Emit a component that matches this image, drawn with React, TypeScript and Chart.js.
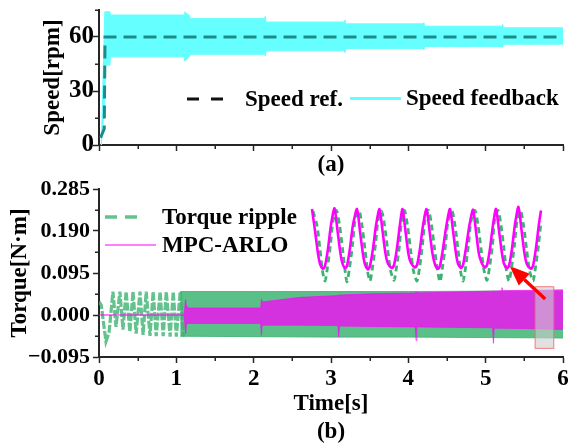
import React, { useEffect, useRef } from 'react';
import { Chart, registerables } from 'chart.js';

Chart.register(...registerables);

const FONT_FAMILY = "'Liberation Serif', 'Times New Roman', Times, serif";
const AXIS_COLOR = '#262626';
const CYAN = '#66ffff';
const REF_TEAL = '#1e8b8b';
const GREEN = '#3cb371';
const GREEN_FILL = 'rgba(60,179,113,0.84)';
const GREEN_LINE = 'rgba(60,179,113,0.8)';
const MAGENTA = '#ff00ff';
const MAGENTA_FILL = 'rgba(255,0,255,0.74)';

// ---------- shared time axis ----------
const timeTicks = [0, 0.5, 1, 1.5, 2, 2.5, 3, 3.5, 4, 4.5, 5, 5.5, 6];
const timeTickLabels = ['0', '', '1', '', '2', '', '3', '', '4', '', '5', '', '6'];

// ---------- (a) speed ----------
const speedTicks = [0, 15, 30, 45, 60, 75];
const speedTickLabels = ['0', '', '30', '', '60', ''];
const speedLegendLabels = ['Speed ref.', 'Speed feedback'];

const speedRefTime = [0.02, 0.068, 0.078, 6];
const speedRefValue = [4, 9, 60, 60];

// envelope of the fast speed-feedback oscillation
const feedbackTime = [0.03, 0.075, 0.085, 0.14, 0.15, 1.1, 1.11, 1.12, 1.17, 1.18, 2.14, 2.15, 2.16, 3.17, 3.18, 3.19, 4.19, 4.2, 4.21, 5.21, 5.22, 5.23, 6.0];
const feedbackUpper = [0, 74, 74, 74, 72.2, 72.2, 74, 73.5, 72, 70.2, 70.2, 71.5, 68.3, 68.3, 69.5, 67.3, 67.3, 68, 66, 66, 67, 65.1, 65.1];
const feedbackLower = [0, 25, 44.4, 44.4, 49, 49, 46.7, 47, 49, 50.4, 50.4, 49.5, 52.3, 52.3, 51.5, 53.6, 53.6, 53, 54.7, 54.7, 54, 56, 56];

// ---------- (b) torque ----------
const torqueTicks = [-0.095, -0.0475, 0, 0.0475, 0.095, 0.1425, 0.19, 0.2375, 0.285];
const torqueTickLabels = ['\u22120.095', '', '0.000', '', '0.095', '', '0.190', '', '0.285'];
const torqueLegendLabels = ['Torque ripple', 'MPC-ARLO'];

// torque ripple, start-up part (visible zig-zag)
const rippleEarlyTime = [0, 0.03, 0.06, 0.09, 0.13, 0.18, 0.22, 0.27, 0.31, 0.35, 0.4, 0.44, 0.48, 0.53, 0.57, 0.61, 0.66, 0.7, 0.74, 0.79, 0.83, 0.87, 0.92, 0.96, 1.0, 1.05, 1.09];
const rippleEarlyValue = [0.03, 0.022, -0.02, -0.06, -0.04, 0.053, -0.027, 0.053, -0.033, 0.053, -0.038, 0.053, -0.042, 0.053, -0.045, 0.053, -0.047, 0.053, -0.048, 0.053, -0.048, 0.053, -0.049, 0.053, -0.049, 0.053, -0.049];

// torque ripple, dense band envelope
const rippleBandTime = [1.05, 2, 3, 4, 5, 6];
const rippleBandUpper = [0.053, 0.053, 0.053, 0.053, 0.054, 0.054];
const rippleBandLower = [-0.048, -0.049, -0.05, -0.05, -0.051, -0.052];

// MPC-ARLO: zero before start, then dense band envelope (with spikes)
const mpcZeroTime = [0, 1.1];
const mpcZeroValue = [0, 0];
const mpcBandTime = [1.1, 1.12, 1.13, 1.15, 2.09, 2.1, 2.11, 2.13, 2.6, 3.09, 3.1, 3.11, 3.5, 4.09, 4.1, 4.11, 4.6, 5.09, 5.1, 5.11, 5.2, 5.21, 5.22, 5.6, 6.0];
const mpcBandUpper = [0.0, 0.035, 0.022, 0.016, 0.016, 0.036, 0.03, 0.03, 0.04, 0.044, 0.046, 0.045, 0.048, 0.05, 0.052, 0.05, 0.052, 0.054, 0.055, 0.054, 0.055, 0.062, 0.055, 0.056, 0.057];
const mpcBandLower = [0.0, -0.042, -0.022, -0.019, -0.019, -0.046, -0.023, -0.023, -0.023, -0.024, -0.05, -0.025, -0.026, -0.027, -0.058, -0.027, -0.028, -0.029, -0.064, -0.03, -0.03, -0.03, -0.03, -0.031, -0.033];

// zoom box (time span, torque span) and arrow (tail -> tip)
const zoomBoxTime = [5.64, 5.88];
const zoomBoxTorque = [-0.0755, 0.064];
const arrowTime = [5.77, 5.31];
const arrowTorque = [0.036, 0.111];

// ---------- inset (zoomed waveform, time in ms) ----------
const insetMpcTime = [
  0, 3, 6, 8, 11, 13, 16, 19,
  22.5, 25.5, 28.5, 30.5, 33, 35, 38, 41,
  45, 48, 51, 53, 56, 58, 61, 64,
  67.5, 70.5, 73.5, 76, 80, 82, 85, 88,
  90.5, 93.5, 96.5, 99, 103, 105, 108, 111,
  114.5, 117.5, 120.5, 123, 126, 128, 131, 134.5,
  138, 141, 144, 146, 149, 151, 154, 157.5,
  161, 164, 167, 170, 173, 175, 178, 181,
  184, 187, 190, 192, 195, 197, 200, 203,
  206.5, 209.5, 212.5, 215, 219, 221, 224, 227,
  229,
];
const insetMpcValue = [
  0.05, 0.02, -0.012, -0.026, -0.033, -0.029, -0.005, 0.028,
  0.051, 0.02, -0.012, -0.026, -0.032, -0.029, -0.004, 0.028,
  0.05, 0.019, -0.013, -0.027, -0.034, -0.029, -0.005, 0.027,
  0.05, 0.02, -0.012, -0.026, -0.032, -0.028, -0.004, 0.029,
  0.05, 0.019, -0.013, -0.025, -0.031, -0.028, -0.005, 0.027,
  0.05, 0.02, -0.012, -0.027, -0.033, -0.029, -0.005, 0.028,
  0.05, 0.02, -0.012, -0.026, -0.032, -0.028, -0.004, 0.028,
  0.049, 0.019, -0.013, -0.026, -0.031, -0.028, -0.005, 0.028,
  0.05, 0.02, -0.012, -0.026, -0.032, -0.029, -0.005, 0.029,
  0.053, 0.021, -0.012, -0.027, -0.033, -0.029, -0.004, 0.03,
  0.048,
];
const insetRippleTime = [
  1, 5, 8, 10.5, 13, 15.5, 18.5, 21,
  24.5, 27.5, 30.5, 33, 35, 37.5, 40.5, 43,
  47, 50, 53, 55.5, 58, 60.5, 63.5, 66,
  69.5, 72.5, 75.5, 78.5, 82, 84.5, 87.5, 89.5,
  92.5, 95.5, 98.5, 101.5, 105, 107.5, 110.5, 113,
  116.5, 119.5, 122.5, 125.5, 128, 130.5, 133.5, 136,
  140, 143, 146, 148.5, 151, 153.5, 156.5, 159,
  163, 166, 169, 172, 175, 177.5, 180.5, 182.5,
  186, 189, 192, 194.5, 197, 199.5, 202.5, 205,
  208.5, 211.5, 214.5, 217.5, 221, 223.5, 226.5, 229,
];
const insetRippleValue = [
  0.047, 0.027, -0.006, -0.036, -0.05, -0.031, 0.001, 0.033,
  0.048, 0.028, -0.005, -0.035, -0.051, -0.032, 0.0, 0.034,
  0.048, 0.027, -0.006, -0.036, -0.05, -0.031, 0.001, 0.033,
  0.047, 0.028, -0.005, -0.035, -0.049, -0.031, 0.0, 0.033,
  0.048, 0.027, -0.006, -0.036, -0.05, -0.032, 0.001, 0.034,
  0.048, 0.028, -0.005, -0.035, -0.051, -0.031, 0.0, 0.033,
  0.047, 0.027, -0.006, -0.036, -0.05, -0.032, 0.001, 0.033,
  0.048, 0.028, -0.005, -0.035, -0.049, -0.031, 0.0, 0.034,
  0.048, 0.027, -0.006, -0.036, -0.05, -0.032, 0.001, 0.033,
  0.048, 0.028, -0.005, -0.035, -0.05, -0.031, 0.0, 0.033,
];

// ---------- helpers ----------
const pts = (xs: number[], ys: number[]) => xs.map((x, i) => ({ x, y: ys[i] }));
const font = (size = 23) => ({ family: FONT_FAMILY, size, weight: 'bold' as const, lineHeight: 1.22 });

const minorTicksPlugin = {
  id: 'minorTicks',
  afterDraw(chart: any, _args: any, opts: any) {
    const ctx = chart.ctx;
    const area = chart.chartArea;
    ctx.save();
    ctx.strokeStyle = AXIS_COLOR;
    ctx.lineWidth = 1.5;
    const xs = chart.scales.x;
    const ys = chart.scales.y;
    (opts.x || []).forEach((v: number) => {
      const p = Math.round(xs.getPixelForValue(v)) + 0.25;
      ctx.beginPath();
      ctx.moveTo(p, area.bottom);
      ctx.lineTo(p, area.bottom + 4);
      ctx.stroke();
    });
    (opts.y || []).forEach((v: number) => {
      const p = Math.round(ys.getPixelForValue(v)) + 0.25;
      ctx.beginPath();
      ctx.moveTo(area.left - 4, p);
      ctx.lineTo(area.left, p);
      ctx.stroke();
    });
    ctx.restore();
  },
};

const inlineLegendPlugin = {
  id: 'inlineLegend',
  afterDraw(chart: any, _args: any, opts: any) {
    const ctx = chart.ctx;
    (opts.items || []).forEach((it: any) => {
      ctx.save();
      ctx.strokeStyle = it.color;
      ctx.lineWidth = it.width;
      ctx.setLineDash(it.dash || []);
      ctx.beginPath();
      ctx.moveTo(it.x0, it.y);
      ctx.lineTo(it.x1, it.y);
      ctx.stroke();
      ctx.setLineDash([]);
      ctx.fillStyle = '#000';
      ctx.font = `bold 23px ${FONT_FAMILY}`;
      ctx.textBaseline = 'middle';
      ctx.textAlign = 'left';
      ctx.fillText(it.text, it.tx, it.y + 1);
      ctx.restore();
    });
  },
};

const zoomMarkPlugin = {
  id: 'zoomMark',
  afterDatasetsDraw(chart: any) {
    const ctx = chart.ctx;
    const xs = chart.scales.x;
    const ys = chart.scales.y;
    const x0 = xs.getPixelForValue(zoomBoxTime[0]);
    const x1 = xs.getPixelForValue(zoomBoxTime[1]);
    const y0 = ys.getPixelForValue(zoomBoxTorque[1]);
    const y1 = ys.getPixelForValue(zoomBoxTorque[0]);
    ctx.save();
    ctx.fillStyle = 'rgba(205,205,205,0.6)';
    ctx.fillRect(x0, y0, x1 - x0, y1 - y0);
    ctx.strokeStyle = 'rgba(240,110,110,0.75)';
    ctx.lineWidth = 1.2;
    ctx.strokeRect(x0, y0, x1 - x0, y1 - y0);
    // arrow
    const tx = xs.getPixelForValue(arrowTime[0]);
    const ty = ys.getPixelForValue(arrowTorque[0]);
    const hx = xs.getPixelForValue(arrowTime[1]);
    const hy = ys.getPixelForValue(arrowTorque[1]);
    const ang = Math.atan2(hy - ty, hx - tx);
    const headLen = 20;
    const headHalf = 8;
    const bx = hx - headLen * Math.cos(ang);
    const by = hy - headLen * Math.sin(ang);
    ctx.strokeStyle = '#ff0000';
    ctx.fillStyle = '#ff0000';
    ctx.lineWidth = 3.4;
    ctx.beginPath();
    ctx.moveTo(tx, ty);
    ctx.lineTo(bx, by);
    ctx.stroke();
    ctx.beginPath();
    ctx.moveTo(hx, hy);
    ctx.lineTo(bx + headHalf * Math.sin(ang), by - headHalf * Math.cos(ang));
    ctx.lineTo(bx - headHalf * Math.sin(ang), by + headHalf * Math.cos(ang));
    ctx.closePath();
    ctx.fill();
    ctx.restore();
  },
};

function timeAxis(showLabels: boolean, title: string | string[], height: number, titlePadBottom: number) {
  return {
    type: 'linear' as const,
    min: 0,
    max: 6,
    afterBuildTicks: (s: any) => {
      s.ticks = timeTicks.map((v) => ({ value: v }));
    },
    afterFit: (s: any) => {
      s.height = height;
      s.paddingLeft = 0;
      s.paddingRight = 0;
    },
    ticks: {
      autoSkip: false,
      maxRotation: 0,
      padding: 2,
      color: '#000',
      font: font(23),
      callback: (_v: any, i: number) => (showLabels ? timeTickLabels[i] : ''),
    },
    grid: {
      display: true,
      drawOnChartArea: false,
      drawTicks: true,
      tickLength: 6,
      tickWidth: 1.5,
      tickColor: (c: any) => (timeTickLabels[c.index] ? AXIS_COLOR : 'rgba(0,0,0,0)'),
    },
    border: { display: true, color: AXIS_COLOR, width: 2 },
    title: { display: true, text: title, color: '#000', font: font(23), padding: { top: 0, bottom: titlePadBottom } },
  };
}

function valueAxis(min: number, max: number, tickVals: number[], tickLabels: string[], title: string, titlePadTop: number, labelPad: number, labelSize: number) {
  return {
    type: 'linear' as const,
    min,
    max,
    afterBuildTicks: (s: any) => {
      s.ticks = tickVals.map((v) => ({ value: v }));
    },
    afterFit: (s: any) => {
      s.width = 99;
      s.paddingTop = 0;
      s.paddingBottom = 0;
    },
    ticks: {
      autoSkip: false,
      padding: labelPad,
      color: '#000',
      font: font(labelSize),
      callback: (_v: any, i: number) => tickLabels[i],
    },
    grid: {
      display: true,
      drawOnChartArea: false,
      drawTicks: true,
      tickLength: 6,
      tickWidth: 1.5,
      tickColor: (c: any) => (tickLabels[c.index] ? AXIS_COLOR : 'rgba(0,0,0,0)'),
    },
    border: { display: true, color: AXIS_COLOR, width: 2 },
    title: { display: true, text: title, color: '#000', font: font(23), padding: { top: titlePadTop, bottom: 0 } },
  };
}

function speedConfig(): any {
  return {
    type: 'line',
    data: {
      datasets: [
        {
          label: speedLegendLabels[0],
          data: pts(speedRefTime, speedRefValue),
          borderColor: REF_TEAL,
          borderWidth: 3,
          borderDash: [13, 7],
          pointRadius: 0,
          fill: false,
          tension: 0,
        },
        {
          label: speedLegendLabels[1],
          data: pts(feedbackTime, feedbackUpper),
          borderColor: CYAN,
          backgroundColor: CYAN,
          borderWidth: 1,
          pointRadius: 0,
          fill: '+1',
          tension: 0,
        },
        {
          label: speedLegendLabels[1] + ' (min)',
          data: pts(feedbackTime, feedbackLower),
          borderColor: CYAN,
          borderWidth: 1,
          pointRadius: 0,
          fill: false,
          tension: 0,
        },
      ],
    },
    options: {
      responsive: false,
      animation: false,
      events: [],
      layout: { padding: { top: 10, right: 8, left: 0, bottom: 0 } },
      plugins: {
        legend: { display: false },
        tooltip: { enabled: false },
        minorTicks: {
          x: timeTicks.filter((_, i) => !timeTickLabels[i]),
          y: speedTicks.filter((_, i) => !speedTickLabels[i]),
        },
        inlineLegend: {
          items: [
            { text: speedLegendLabels[0], color: '#111', width: 3, dash: [12, 12], x0: 187, x1: 224, y: 99, tx: 245 },
            { text: speedLegendLabels[1], color: CYAN, width: 3, dash: [], x0: 350, x1: 401, y: 98.5, tx: 406 },
          ],
        },
      },
      scales: {
        x: timeAxis(false, '(a)', 35, 1),
        y: valueAxis(0, 75, speedTicks, speedTickLabels, 'Speed[rpm]', 39, -1, 25),
      },
    },
    plugins: [minorTicksPlugin, inlineLegendPlugin],
  };
}

function torqueConfig(): any {
  return {
    type: 'line',
    data: {
      datasets: [
        {
          label: torqueLegendLabels[1],
          data: pts(mpcBandTime, mpcBandUpper),
          borderColor: MAGENTA_FILL,
          backgroundColor: MAGENTA_FILL,
          borderWidth: 0.8,
          pointRadius: 0,
          fill: '+1',
          tension: 0,
        },
        {
          label: torqueLegendLabels[1] + ' (min)',
          data: pts(mpcBandTime, mpcBandLower),
          borderColor: MAGENTA_FILL,
          borderWidth: 0.8,
          pointRadius: 0,
          fill: false,
          tension: 0,
        },
        {
          label: torqueLegendLabels[1] + ' (idle)',
          data: pts(mpcZeroTime, mpcZeroValue),
          borderColor: MAGENTA,
          borderWidth: 1,
          pointRadius: 0,
          fill: false,
          tension: 0,
        },
        {
          label: torqueLegendLabels[0] + ' (start)',
          data: pts(rippleEarlyTime, rippleEarlyValue),
          borderColor: GREEN_LINE,
          borderWidth: 3.2,
          borderDash: [8, 2],
          pointRadius: 0,
          fill: false,
          tension: 0,
        },
        {
          label: torqueLegendLabels[0],
          data: pts(rippleBandTime, rippleBandUpper),
          borderColor: GREEN_FILL,
          backgroundColor: GREEN_FILL,
          borderWidth: 1,
          pointRadius: 0,
          fill: '+1',
          tension: 0,
        },
        {
          label: torqueLegendLabels[0] + ' (min)',
          data: pts(rippleBandTime, rippleBandLower),
          borderColor: GREEN_FILL,
          borderWidth: 1,
          pointRadius: 0,
          fill: false,
          tension: 0,
        },
      ],
    },
    options: {
      responsive: false,
      animation: false,
      events: [],
      layout: { padding: { top: 9, right: 8, left: 0, bottom: 0 } },
      plugins: {
        legend: { display: false },
        tooltip: { enabled: false },
        minorTicks: {
          x: timeTicks.filter((_, i) => !timeTickLabels[i]),
          y: torqueTicks.filter((_, i) => !torqueTickLabels[i]),
        },
        inlineLegend: {
          items: [
            { text: torqueLegendLabels[0], color: GREEN_LINE, width: 3.5, dash: [12, 8], x0: 105, x1: 142, y: 37, tx: 162 },
            { text: torqueLegendLabels[1], color: MAGENTA, width: 1, dash: [], x0: 105, x1: 156, y: 65, tx: 162 },
          ],
        },
      },
      scales: {
        x: timeAxis(true, ['Time[s]', '(b)'], 88, -1),
        y: valueAxis(-0.095, 0.285, torqueTicks, torqueTickLabels, 'Torque[N\u00b7m]', 6, 3, 22),
      },
    },
    plugins: [zoomMarkPlugin, minorTicksPlugin, inlineLegendPlugin],
  };
}

function insetConfig(): any {
  return {
    type: 'line',
    data: {
      datasets: [
        {
          label: 'MPC-ARLO (zoom)',
          data: pts(insetMpcTime, insetMpcValue),
          borderColor: MAGENTA,
          borderWidth: 2.6,
          pointRadius: 0,
          fill: false,
          tension: 0.25,
          clip: false,
        },
        {
          label: 'Torque ripple (zoom)',
          data: pts(insetRippleTime, insetRippleValue),
          borderColor: GREEN,
          borderWidth: 2.8,
          borderDash: [6, 4],
          pointRadius: 0,
          fill: false,
          tension: 0.25,
          clip: false,
        },
      ],
    },
    options: {
      responsive: false,
      animation: false,
      events: [],
      layout: { padding: 0 },
      plugins: { legend: { display: false }, tooltip: { enabled: false } },
      scales: {
        x: { type: 'linear', display: false, min: -7, max: 248 },
        y: { type: 'linear', display: false, min: -0.0625, max: 0.0653 },
      },
    },
  };
}

export default function App() {
  const topRef = useRef<HTMLCanvasElement | null>(null);
  const botRef = useRef<HTMLCanvasElement | null>(null);
  const insetRef = useRef<HTMLCanvasElement | null>(null);

  useEffect(() => {
    const prevMargin = document.body.style.margin;
    document.body.style.margin = '0';
    const charts: Chart[] = [];
    if (topRef.current) charts.push(new Chart(topRef.current, speedConfig()));
    if (botRef.current) charts.push(new Chart(botRef.current, torqueConfig()));
    if (insetRef.current) charts.push(new Chart(insetRef.current, insetConfig()));
    return () => {
      charts.forEach((c) => c.destroy());
      document.body.style.margin = prevMargin;
    };
  }, []);

  return (
    <div style={{ position: 'relative', width: 571, height: 445, background: '#fff', overflow: 'hidden' }}>
      <canvas ref={topRef} width={571} height={180} style={{ position: 'absolute', left: 0, top: 0, width: 571, height: 180 }} />
      <canvas ref={botRef} width={571} height={265} style={{ position: 'absolute', left: 0, top: 180, width: 571, height: 265 }} />
      <canvas ref={insetRef} width={255} height={92} style={{ position: 'absolute', left: 305, top: 198, width: 255, height: 92 }} />
    </div>
  );
}
